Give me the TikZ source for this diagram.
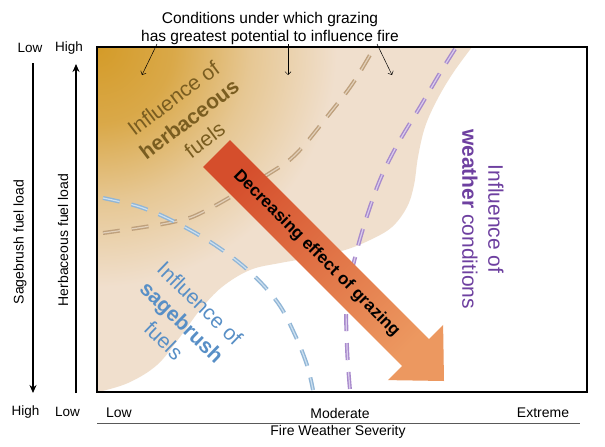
\documentclass[tikz,border=0pt]{standalone}
\usepackage{fontspec}
\setmainfont{Liberation Sans}
\usetikzlibrary{arrows.meta}
\definecolor{beige}{RGB}{240,223,205}
\definecolor{goldc}{RGB}{212,155,40}
\colorlet{goldB}{goldc!80!beige}
\colorlet{goldC}{goldc!35!beige}
\definecolor{herbc}{RGB}{122,93,32}
\definecolor{sagec}{RGB}{88,143,198}
\definecolor{weatherc}{RGB}{110,64,160}
\definecolor{tanD}{RGB}{190,160,124}
\definecolor{tanL}{RGB}{226,208,186}
\definecolor{blueD}{RGB}{145,182,214}
\definecolor{blueL}{RGB}{205,224,240}
\definecolor{purD}{RGB}{168,138,204}
\definecolor{purL}{RGB}{218,204,236}
\definecolor{arrowA}{RGB}{213,78,44}
\definecolor{arrowB}{RGB}{236,152,96}
\pgfdeclareradialshading{goldfade}{\pgfpoint{0bp}{0bp}}{color(0bp)=(goldc); color(8bp)=(goldB); color(16bp)=(goldC); color(25bp)=(beige); color(50bp)=(beige)}
\tikzset{
  dashbase/.style={double distance=1.2pt, line width=1.4pt, dash pattern=on 17pt off 12pt},
  tandash/.style={dashbase, draw=tanD, double=tanL},
  bluedash/.style={dashbase, draw=blueD, double=blueL},
  purdash/.style={dashbase, draw=purD, double=purL},
  axisarrow/.style={line width=1.6pt, -{Stealth[length=8pt,width=7pt]}},
  pointer/.style={line width=0.5pt, -{Straight Barb[length=3pt,width=6pt]}},
  axislbl/.style={font=\fontsize{13.5}{16}\selectfont, inner sep=0pt},
  biglbl/.style={align=center, inner sep=0pt, font=\fontsize{21}{26}\selectfont},
}
\begin{document}
\begin{tikzpicture}[x=1pt,y=-1pt]
\useasboundingbox (0,0) rectangle (605,447);
\fill[white] (0,0) rectangle (605,447);

% beige region with golden corner
\begin{scope}
\clip (97,47) -- plot[smooth,tension=0.6] coordinates {(472,47) (453,73) (437,100) (425,127) (418,157) (414,185) (407,207) (392,227) (370,240) (345,250) (315,257) (280,263) (250,270) (222,287) (200,310) (180,337) (157,365) (128,383) (98,392)} -- (97,392) -- cycle;
\fill[beige] (90,40) rectangle (600,400);
\shade[shading=goldfade] (97,47) circle (240);
\end{scope}

% dashed influence lines
\draw[tandash] plot[smooth,tension=0.6] coordinates {(103,233) (173,222) (207,210) (270,173) (297,153) (330,113) (353,83) (374,48)};
\draw[bluedash] plot[smooth,tension=0.6] coordinates {(103,198) (140,207) (175,222) (215,245) (250,272) (278,303) (295,335) (307,365) (313,390)};
\draw[purdash] plot[smooth,tension=0.6] coordinates {(455,49) (440,73) (420,107) (400,140) (383,173) (370,207) (357,250) (347,297) (347,347) (350,390)};

% big arrow
\shade[top color=arrowA, bottom color=arrowB, shading angle=45]
  (229.9,140.1) -- (428.9,339.1) -- (443.1,324.9) -- (444,381) -- (387.9,380.1) -- (402.1,365.9) -- (203.1,166.9) -- cycle;
\node[rotate=-45, inner sep=0pt, font=\fontsize{17}{20}\selectfont\bfseries] (dec) at (316.5,253.5) {Decreasing effect of grazing};

% region labels
\node[biglbl, rotate=37, text=herbc] (herbtxt) at (189,119) {Influence of\\\textbf{herbaceous}\\fuels};
\node[biglbl, rotate=-44, text=sagec] (sagetxt) at (182,322) {Influence of\\\textbf{sagebrush}\\fuels};
\node[biglbl, rotate=-90, text=weatherc] (weathertxt) at (483,219) {Influence of\\\textbf{weather} conditions};

% frame
\draw[line width=1.8pt] (97,47) rectangle (587,392);

% top caption and pointers
\node[align=center, inner sep=0pt, font=\fontsize{15.5}{18}\selectfont] (cond) at (270,28) {Conditions under which grazing\\has greatest potential to influence fire};
\coordinate (p1s) at (157,44); \coordinate (p1e) at (142,75);
\coordinate (p2s) at (288,44); \coordinate (p2e) at (288,75);
\coordinate (p3s) at (377,44); \coordinate (p3e) at (392,75);
\draw[pointer] (p1s) -- (p1e);
\draw[pointer] (p2s) -- (p2e);
\draw[pointer] (p3s) -- (p3e);

% left axes
\node[axislbl] (lowtop) at (30,48) {Low};
\node[axislbl] (hightop) at (69,48) {High};
\node[axislbl] (highbot) at (25.5,412) {High};
\node[axislbl] (lowbot) at (67.5,412) {Low};
\coordinate (sagetop) at (33,63); \coordinate (sagebot) at (33,393);
\coordinate (herbbot) at (76,393); \coordinate (herbtop) at (76,64);
\draw[axisarrow] (sagetop) -- (sagebot);
\draw[axisarrow] (herbbot) -- (herbtop);
\node[axislbl, rotate=90, font=\fontsize{14}{16}\selectfont] (sagelbl) at (20,242) {Sagebrush fuel load};
\node[axislbl, rotate=90, font=\fontsize{14}{16}\selectfont] (herblbl) at (63,240) {Herbaceous fuel load};

% bottom axis
\coordinate (axl) at (97,423); \coordinate (axr) at (580,423);
\draw[line width=0.8pt, black!65] (axl) -- (axr);
\node[axislbl, font=\fontsize{14}{16}\selectfont] (lowx) at (119,413) {Low};
\node[axislbl, font=\fontsize{14}{16}\selectfont] (modx) at (340,413) {Moderate};
\node[axislbl, font=\fontsize{14}{16}\selectfont] (extx) at (543,413) {Extreme};
\node[axislbl, font=\fontsize{14}{16}\selectfont] (fws) at (338,432) {Fire Weather Severity};
\end{tikzpicture}
\end{document}
